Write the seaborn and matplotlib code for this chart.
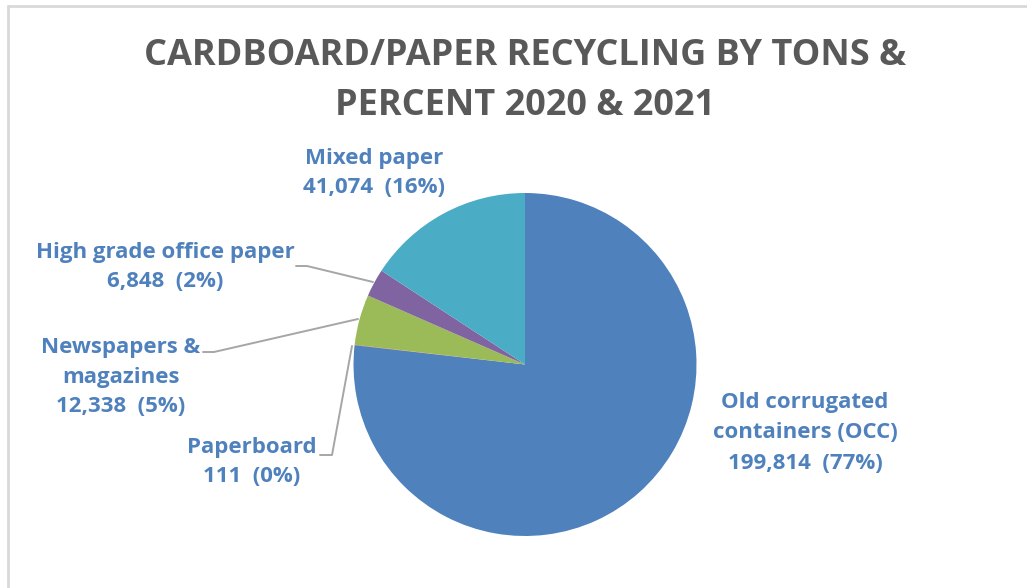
import matplotlib
matplotlib.use("Agg")
import matplotlib.pyplot as plt
import seaborn as sns
from matplotlib.lines import Line2D

# ---- data ----
categories = ["Old corrugated containers (OCC)", "Paperboard", "Newspapers & magazines",
              "High grade office paper", "Mixed paper"]
tons = [199814, 111, 12338, 6848, 41074]
percents = [77, 0, 5, 2, 16]
label_lines = [["Old corrugated", "containers (OCC)"], ["Paperboard"],
               ["Newspapers &", "magazines"], ["High grade office paper"], ["Mixed paper"]]
colors = ["#4F81BD", "#C0504D", "#9BBB59", "#8064A2", "#4BACC6"]
title = "CARDBOARD/PAPER RECYCLING BY TONS &\nPERCENT 2020 & 2021"

sns.set_theme(style="white")
plt.rcParams["font.family"] = ["Open Sans", "DejaVu Sans"]

W, H = 1027, 588
fig = plt.figure(figsize=(W / 100, H / 100), dpi=100)
ax = fig.add_axes([0, 0, 1, 1])

def Y(y):
    return H - y

ax.pie(tons, colors=colors, startangle=90, counterclock=False,
       center=(525, Y(364.5)), radius=171.5,
       wedgeprops=dict(linewidth=0), frame=False)
ax.set_xlim(0, W)
ax.set_ylim(0, H)
ax.set_aspect("equal")
ax.axis("off")

# border (top and left)
fig.add_artist(Line2D([8 / W, 1], [Y(6) / H, Y(6) / H], color="#d9d9d9", lw=2))
fig.add_artist(Line2D([8 / W, 8 / W], [0, Y(6) / H], color="#d9d9d9", lw=2))

# title
ax.text(525, Y(81), title, ha="center", va="center", fontsize=26, fontweight="bold",
        color="#595959", linespacing=1.53)

label_color = "#4F81BD"
fs = 16
# label block centers (x, y) and line spacing
pos = {0: (805, 433, 1.62), 1: (252, 462, 1.5), 2: (121, 377, 1.55),
       3: (165, 267, 1.5), 4: (374, 173, 1.48)}
for i, (x, yc, ls) in pos.items():
    lines = label_lines[i] + [f"{tons[i]:,}  ({percents[i]}%)"]
    ax.text(x, Y(yc), "\n".join(lines), ha="center", va="center",
            fontsize=fs, fontweight="bold", color=label_color, linespacing=ls)

# leader lines
lc = "#a6a6a6"
ax.plot([296, 307, 373], [Y(266), Y(266), Y(282)], color=lc, lw=1.4)
ax.plot([203, 214, 358], [Y(352), Y(352), Y(319)], color=lc, lw=1.4)
ax.plot([320, 332, 352], [Y(455), Y(455), Y(346)], color=lc, lw=1.4)

fig.savefig("out.png", dpi=100, facecolor="white")
